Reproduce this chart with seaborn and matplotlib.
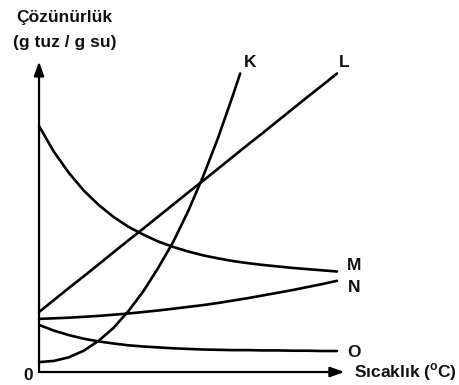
import matplotlib
matplotlib.use("Agg")
import matplotlib.pyplot as plt
import seaborn as sns
import pandas as pd

# temperature grid (arbitrary units, 0..100)
temp = [0, 5, 10, 15, 20, 25, 30, 35, 40, 45, 50, 55, 60, 65, 70, 75, 80, 85, 90, 95, 100]

# solubility curves
k_temp = [0, 5, 10, 15, 20, 25, 30, 35, 40, 45, 50, 55, 60, 65, 67.5]
k_vals = [3.3, 3.7, 4.9, 7.1, 10.4, 14.7, 20.3, 26.9, 34.7, 43.3, 53.5, 65.0, 77.8, 92.0, 99.5]
l_vals = [20.0, 24.0, 28.0, 31.9, 35.9, 39.9, 43.9, 47.8, 51.8, 55.8, 59.8, 63.7, 67.7,
          71.7, 75.7, 79.6, 83.6, 87.6, 91.6, 95.5, 99.5]
m_vals = [82.0, 73.4, 66.4, 60.5, 55.7, 51.7, 48.4, 45.8, 43.5, 41.7, 40.2, 38.9, 37.9,
          37.0, 36.3, 35.7, 35.2, 34.7, 34.3, 33.9, 33.5]
n_vals = [17.7, 17.9, 18.1, 18.4, 18.7, 19.1, 19.5, 20.0, 20.5, 21.1, 21.7, 22.3, 23.0,
          23.8, 24.6, 25.5, 26.4, 27.3, 28.3, 29.3, 30.4]
o_vals = [15.7, 13.8, 12.3, 11.1, 10.2, 9.5, 8.9, 8.5, 8.2, 7.9, 7.7, 7.5, 7.4,
          7.3, 7.3, 7.2, 7.2, 7.1, 7.1, 7.0, 7.0]

labels = ["K", "L", "M", "N", "O"]
y_title = ["Çözünürlük", "(g tuz / g su)"]
x_title = "Sıcaklık ($^{\\mathbf{o}}$C)"

sns.set_theme(style="white")
plt.rcParams['font.family'] = ['Liberation Sans', 'DejaVu Sans']
plt.rcParams['mathtext.fontset'] = 'custom'
plt.rcParams['mathtext.rm'] = 'Liberation Sans'
plt.rcParams['mathtext.bf'] = 'Liberation Sans:bold'

fig = plt.figure(figsize=(4.6, 3.85), dpi=100)
ax = fig.add_axes([0, 0, 1, 1])
ax.set_xlim(-13.1, 141.3)
ax.set_ylim(-4.33, 124)
ax.axis("off")

df = pd.DataFrame({"temp": temp, "L": l_vals, "M": m_vals, "N": n_vals, "O": o_vals})
for col in ["L", "M", "N", "O"]:
    sns.lineplot(data=df, x="temp", y=col, color="black", lw=1.9, ax=ax)
sns.lineplot(x=k_temp, y=k_vals, color="black", lw=1.9, ax=ax)

# axes with arrow heads
arrow = dict(arrowstyle="-|>,head_length=0.7,head_width=0.25", color="black", lw=1.6,
             shrinkA=0, shrinkB=0)
ax.annotate("", xy=(0, 103.5), xytext=(0, 0), arrowprops=arrow)
ax.annotate("", xy=(102.5, 0), xytext=(0, 0), arrowprops=arrow)

fs = 12.5
txt = dict(fontsize=fs, fontweight="bold", color="#111111")
ax.text(70.8, 103.3, labels[0], ha="center", va="center", **txt)
ax.text(102.3, 103.3, labels[1], ha="center", va="center", **txt)
ax.text(105.6, 35.5, labels[2], ha="center", va="center", **txt)
ax.text(105.6, 28.3, labels[3], ha="center", va="center", **txt)
ax.text(105.6, 6.6, labels[4], ha="center", va="center", **txt)
ax.text(105.8, 0.0, x_title, ha="left", va="center", **txt)
ax.text(-3.6, -1.2, "0", ha="center", va="center", **txt)
ax.text(8.6, 118.3, y_title[0], ha="center", va="center", **txt)
ax.text(8.6, 109.8, y_title[1], ha="center", va="center", **txt)

fig.savefig("out.png", dpi=100, facecolor="white")
